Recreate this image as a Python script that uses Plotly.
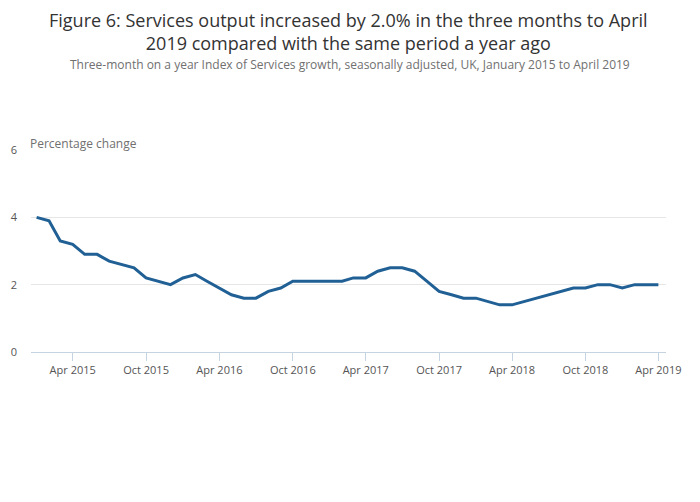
import plotly.graph_objects as go
import pandas as pd

months = pd.date_range("2015-01-01", "2019-04-01", freq="MS")
growth = [4.0, 3.9, 3.3, 3.2, 2.9, 2.9, 2.7, 2.6, 2.5, 2.2, 2.1, 2.0,
          2.2, 2.3, 2.1, 1.9, 1.7, 1.6, 1.6, 1.8, 1.9, 2.1, 2.1, 2.1,
          2.1, 2.1, 2.2, 2.2, 2.4, 2.5, 2.5, 2.4, 2.1, 1.8, 1.7, 1.6,
          1.6, 1.5, 1.4, 1.4, 1.5, 1.6, 1.7, 1.8, 1.9, 1.9, 2.0, 2.0,
          1.9, 2.0, 2.0, 2.0]
tick_vals = pd.date_range("2015-04-01", "2019-04-01", freq="6MS")
tick_text = [d.strftime("%b %Y") for d in tick_vals]

title = "Figure 6: Services output increased by 2.0% in the three months to April<br>2019 compared with the same period a year ago"
subtitle = "Three-month on a year Index of Services growth, seasonally adjusted, UK, January 2015 to April 2019"

fig = go.Figure()
fig.add_trace(go.Scatter(x=months, y=growth, mode="lines",
                         line=dict(color="#206095", width=3), hoverinfo="x+y"))

fig.update_layout(
    width=700, height=502,
    paper_bgcolor="white", plot_bgcolor="white",
    font=dict(family="Open Sans", color="#707070", size=11),
    margin=dict(l=23, r=42, t=142, b=158),
    showlegend=False,
    xaxis=dict(range=["2014-12-18", "2019-04-20"], tickvals=tick_vals, ticktext=tick_text,
               showgrid=False, showline=True, linecolor="#c6d4e1", linewidth=1,
               ticks="outside", ticklen=8, tickcolor="#c6d4e1",
               tickfont=dict(size=11, color="#555555"), zeroline=False, automargin=False),
    yaxis=dict(range=[0, 6], tickvals=[0, 2, 4, 6], showgrid=True, gridcolor="#e6e6e6",
               zeroline=False, tickfont=dict(size=11, color="#555555"), ticks="",
               ticklabelstandoff=13, automargin=False),
    annotations=[
        dict(text=title, x=0.5, y=1, xref="paper", yref="paper", xanchor="center", yanchor="middle",
             showarrow=False, font=dict(size=18, color="#333333", family="Open Sans"),
             yshift=119, align="center", borderpad=0),
        dict(text=subtitle, x=0.5, y=1, xref="paper", yref="paper", xanchor="center", yanchor="middle",
             showarrow=False, font=dict(size=12, color="#707070", family="Open Sans"),
             yshift=86, xshift=1),
        dict(text="Percentage change", x=0, y=1, xref="paper", yref="paper", xanchor="left", yanchor="bottom",
             showarrow=False, font=dict(size=12, color="#707070", family="Open Sans"), yshift=-4, xshift=-3),
    ],
)
fig.write_html("out.html")
